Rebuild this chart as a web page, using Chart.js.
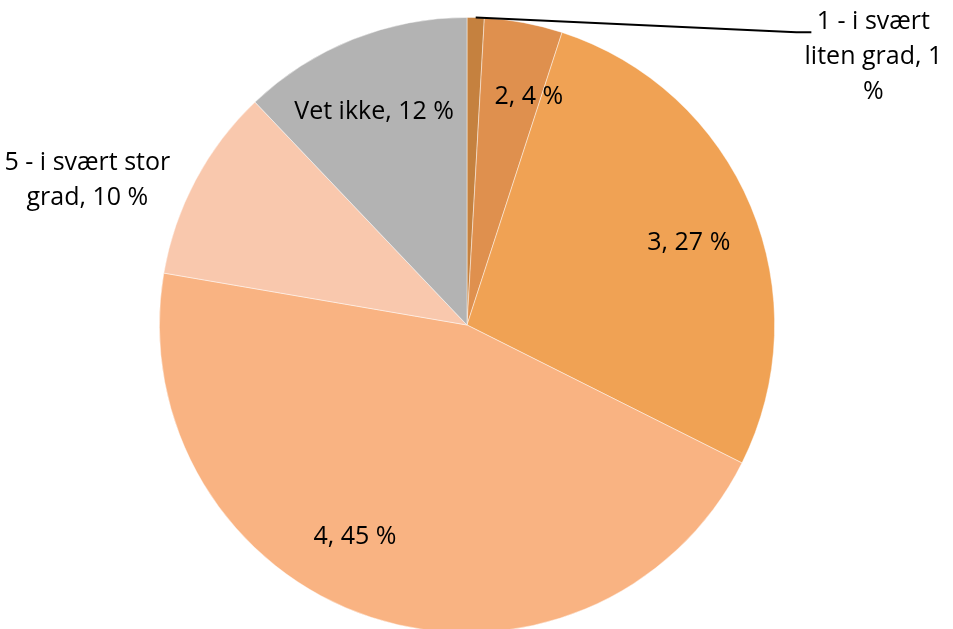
<!DOCTYPE html>
<html><head><meta charset="utf-8">
<script src="https://cdn.jsdelivr.net/npm/chart.js@4/dist/chart.umd.min.js"></script>
<style>html,body{margin:0;padding:0;background:#fff;overflow:hidden;width:953px;height:629px}
#wrap{position:absolute;left:0;top:0;width:953px;height:650px}</style>
</head><body><div id="wrap"><canvas id="c"></canvas></div>
<script>
const categories = ['1 - i svært liten grad', '2', '3', '4', '5 - i svært stor grad', 'Vet ikke'];
const values = [0.9, 4.1, 27.4, 45.3, 10.2, 12.1];
const shownPercents = [1, 4, 27, 45, 10, 12];
const colors = ['#C5813F', '#DF904E', '#F0A254', '#F9B382', '#F9C8AD', '#B3B3B3'];

// label layout: lines, and anchor relative to pie centre in units of radius
const labelLayout = [
  {lines: ['1 - i svært', 'liten grad, ' + shownPercents[0], '%'], dx: 1.321, dy: -0.984, leader: true},
  {lines: [categories[1] + ', ' + shownPercents[1] + ' %'], dx: 0.201, dy: -0.740},
  {lines: [categories[2] + ', ' + shownPercents[2] + ' %'], dx: 0.721, dy: -0.266},
  {lines: [categories[3] + ', ' + shownPercents[3] + ' %'], dx: -0.364, dy: 0.688},
  {lines: ['5 - i svært stor', 'grad, ' + shownPercents[4] + ' %'], dx: -1.234, dy: -0.526},
  {lines: [categories[5] + ', ' + shownPercents[5] + ' %'], dx: -0.302, dy: -0.692}
];
const lineH = 35;
const fontSpec = '25px "Open Sans", Lato, sans-serif';

const labelPlugin = {
  id: 'pieLabels',
  afterDatasetsDraw(chart) {
    const ctx = chart.ctx;
    const meta = chart.getDatasetMeta(0);
    ctx.save();
    ctx.font = fontSpec;
    ctx.fillStyle = '#000';
    ctx.textAlign = 'center';
    ctx.textBaseline = 'middle';
    meta.data.forEach((arc, i) => {
      const L = labelLayout[i];
      const R = arc.outerRadius;
      const cx = arc.x + L.dx * R, cy = arc.y + L.dy * R;
      L.lines.forEach((t, k) => ctx.fillText(t, cx, cy + k * lineH));
      if (L.leader) {
        const mid = (arc.startAngle + arc.endAngle) / 2;
        const sx = arc.x + Math.cos(mid) * R, sy = arc.y + Math.sin(mid) * R;
        const ex = cx - 62, ey = cy + 10;
        ctx.beginPath();
        ctx.strokeStyle = '#000';
        ctx.lineWidth = 2;
        ctx.moveTo(sx, sy);
        ctx.lineTo(ex - 15, ey);
        ctx.lineTo(ex, ey);
        ctx.stroke();
      }
    });
    ctx.restore();
  }
};

new Chart(document.getElementById('c'), {
  type: 'pie',
  data: {
    labels: categories,
    datasets: [{data: values, backgroundColor: colors, borderColor: 'rgba(255,255,255,0.6)', borderWidth: 0.75}]
  },
  options: {
    responsive: true,
    maintainAspectRatio: false,
    animation: false,
    layout: {padding: {top: 17, bottom: 17, left: 0, right: 19}},
    plugins: {legend: {display: false}, tooltip: {enabled: false}}
  },
  plugins: [labelPlugin]
});
</script></body></html>
